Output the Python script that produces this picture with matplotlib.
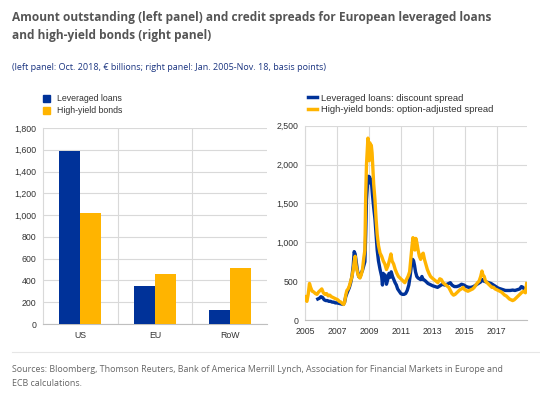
import matplotlib
matplotlib.use("Agg")
import matplotlib.pyplot as plt
from matplotlib.lines import Line2D
from matplotlib.patches import Patch

# Left panel: amount outstanding, Oct. 2018, EUR billions
regions = ["US", "EU", "RoW"]
lev_loans = [1590, 348, 125]
hy_bonds = [1015, 458, 516]

# Right panel: spreads (basis points), x in decimal years
ll_years = [2005.80, 2005.90, 2006.00, 2006.10, 2006.20, 2006.30, 2006.40, 2006.50, 2006.60, 2006.70,
            2006.80, 2006.90, 2007.00, 2007.10, 2007.20, 2007.30, 2007.40, 2007.48, 2007.55, 2007.62,
            2007.70, 2007.78, 2007.86, 2007.94, 2008.02, 2008.08, 2008.14, 2008.20, 2008.28, 2008.36,
            2008.44, 2008.52, 2008.60, 2008.68, 2008.75, 2008.80, 2008.85, 2008.90, 2008.95, 2009.00,
            2009.05, 2009.10, 2009.15, 2009.22, 2009.30, 2009.38, 2009.45, 2009.52, 2009.60, 2009.70,
            2009.80, 2009.85, 2009.90, 2009.96, 2010.02, 2010.10, 2010.18, 2010.26, 2010.34, 2010.40,
            2010.48, 2010.56, 2010.64, 2010.72, 2010.80, 2010.90, 2011.00, 2011.10, 2011.20, 2011.30,
            2011.40, 2011.50, 2011.58, 2011.66, 2011.74, 2011.80, 2011.86, 2011.92, 2012.00, 2012.08,
            2012.16, 2012.24, 2012.32, 2012.40, 2012.50, 2012.60, 2012.70, 2012.80, 2012.90, 2013.00,
            2013.15, 2013.30, 2013.45, 2013.60, 2013.75, 2013.90, 2014.00, 2014.10, 2014.20, 2014.35,
            2014.50, 2014.65, 2014.80, 2014.95, 2015.10, 2015.25, 2015.40, 2015.55, 2015.70, 2015.85,
            2016.00, 2016.10, 2016.20, 2016.35, 2016.50, 2016.65, 2016.80, 2016.95, 2017.10, 2017.25,
            2017.40, 2017.55, 2017.70, 2017.85, 2018.00, 2018.15, 2018.30, 2018.45, 2018.55, 2018.65,
            2018.75, 2018.88]
ll_spread = [270, 280, 300, 290, 260, 250, 250, 240, 240, 230,
             230, 220, 220, 215, 210, 205, 200, 230, 300, 340,
             380, 420, 480, 560, 700, 880, 850, 760, 640, 560,
             550, 600, 640, 700, 750, 1100, 1550, 1700, 1850, 1800,
             1840, 1760, 1800, 1620, 1450, 1300, 1100, 900, 760, 650,
             560, 450, 600, 520, 580, 460, 520, 600, 550, 620,
             560, 520, 480, 450, 400, 370, 340, 330, 330, 340,
             380, 450, 560, 700, 780, 760, 700, 620, 560, 540,
             530, 520, 560, 520, 510, 490, 470, 460, 450, 440,
             430, 420, 440, 460, 450, 460, 470, 480, 450, 430,
             430, 440, 460, 450, 430, 420, 420, 430, 450, 470,
             490, 520, 500, 490, 480, 470, 450, 430, 410, 400,
             390, 380, 380, 380, 385, 380, 390, 400, 430, 420,
             390, 380]

hy_years = [2005.00, 2005.05, 2005.12, 2005.20, 2005.28, 2005.35, 2005.45, 2005.55, 2005.65, 2005.75,
            2005.85, 2005.95, 2006.05, 2006.15, 2006.25, 2006.35, 2006.45, 2006.55, 2006.65, 2006.75,
            2006.85, 2006.95, 2007.05, 2007.15, 2007.25, 2007.35, 2007.42, 2007.48, 2007.55, 2007.62,
            2007.70, 2007.78, 2007.86, 2007.94, 2008.02, 2008.08, 2008.14, 2008.20, 2008.28, 2008.36,
            2008.44, 2008.52, 2008.60, 2008.68, 2008.75, 2008.80, 2008.85, 2008.90, 2008.94, 2008.98,
            2009.02, 2009.06, 2009.10, 2009.15, 2009.20, 2009.25, 2009.30, 2009.38, 2009.45, 2009.52,
            2009.60, 2009.70, 2009.80, 2009.90, 2010.00, 2010.10, 2010.20, 2010.30, 2010.38, 2010.45,
            2010.55, 2010.65, 2010.75, 2010.85, 2010.95, 2011.05, 2011.15, 2011.25, 2011.35, 2011.45,
            2011.55, 2011.62, 2011.70, 2011.76, 2011.82, 2011.88, 2011.94, 2012.00, 2012.08, 2012.16,
            2012.24, 2012.32, 2012.40, 2012.48, 2012.56, 2012.66, 2012.76, 2012.86, 2012.96, 2013.08,
            2013.20, 2013.32, 2013.44, 2013.54, 2013.64, 2013.76, 2013.88, 2014.00, 2014.10, 2014.20,
            2014.30, 2014.40, 2014.50, 2014.60, 2014.70, 2014.80, 2014.90, 2015.00, 2015.10, 2015.20,
            2015.30, 2015.40, 2015.50, 2015.60, 2015.70, 2015.80, 2015.90, 2016.00, 2016.08, 2016.14,
            2016.22, 2016.30, 2016.40, 2016.50, 2016.60, 2016.70, 2016.80, 2016.90, 2017.00, 2017.10,
            2017.20, 2017.30, 2017.40, 2017.50, 2017.60, 2017.70, 2017.80, 2017.90, 2018.00, 2018.10,
            2018.20, 2018.30, 2018.40, 2018.50, 2018.60, 2018.70, 2018.80, 2018.88]
hy_spread = [300, 260, 240, 330, 470, 420, 370, 360, 340, 330,
             360, 380, 400, 350, 330, 340, 310, 320, 300, 290,
             280, 270, 260, 240, 230, 210, 200, 230, 320, 380,
             400, 440, 500, 560, 650, 750, 820, 700, 620, 560,
             540, 580, 650, 800, 900, 1600, 2000, 2200, 2340, 2150,
             2050, 2280, 2100, 2250, 2150, 1950, 1750, 1550, 1300, 1100,
             960, 860, 820, 760, 720, 650, 700, 780, 850, 760,
             720, 650, 600, 560, 540, 520, 500, 480, 520, 560,
             620, 780, 950, 1060, 950, 900, 1050, 1000, 900, 820,
             780, 840, 860, 780, 720, 650, 600, 560, 540, 520,
             500, 480, 530, 520, 480, 460, 440, 420, 380, 340,
             320, 330, 350, 370, 390, 400, 420, 390, 380, 370,
             380, 390, 400, 420, 450, 480, 500, 560, 630, 580,
             560, 500, 480, 460, 440, 420, 420, 400, 390, 380,
             370, 360, 340, 320, 310, 290, 270, 260, 250, 260,
             280, 300, 320, 340, 360, 370, 350, 470]

BLUE = "#003299"
YELLOW = "#FFB400"
GRID = "#d9d9d9"
TXT = "#333333"

plt.rcParams["font.family"] = ["Liberation Sans", "DejaVu Sans"]

fig = plt.figure(figsize=(5.4, 4.16), dpi=100)

# Title, subtitle, sources
fig.text(12 / 540, 1 - 17 / 416, "Amount outstanding (left panel) and credit spreads for European leveraged loans",
         family="Open Sans", weight="bold", fontsize=8.6, color="#555555", va="center")
fig.text(12 / 540, 1 - 36 / 416, "and high-yield bonds (right panel)",
         family="Open Sans", weight="bold", fontsize=8.6, color="#555555", va="center")
fig.text(12 / 540, 1 - 67 / 416, "(left panel: Oct. 2018, \u20ac billions; right panel: Jan. 2005-Nov. 18, basis points)",
         family="Open Sans", fontsize=6.5, color="#1a3480", va="center")
fig.text(12 / 540, 1 - 370 / 416,
         "Sources: Bloomberg, Thomson Reuters, Bank of America Merrill Lynch, Association for Financial Markets in Europe and",
         family="Open Sans", fontsize=6.4, color="#666666", va="center")
fig.text(12 / 540, 1 - 383 / 416, "ECB calculations.",
         family="Open Sans", fontsize=6.4, color="#666666", va="center")
fig.add_artist(Line2D([12 / 540, 1], [1 - 352 / 416, 1 - 352 / 416], color="#e6e6e6", lw=0.8))

# Left panel: bars
ax1 = fig.add_axes([43 / 540, 1 - 324 / 416, 224 / 540, 196 / 416])
x = range(len(regions))
w = 0.28
ax1.bar([i - w / 2 for i in x], lev_loans, width=w, color=BLUE, zorder=3)
ax1.bar([i + w / 2 for i in x], hy_bonds, width=w, color=YELLOW, zorder=3)
ax1.set_xlim(-0.5, 2.5)
ax1.set_ylim(0, 1800)
ax1.set_yticks(range(0, 1801, 200))
ax1.set_yticklabels([f"{v:,}" for v in range(0, 1801, 200)])
ax1.set_xticks(list(x))
ax1.set_xticklabels(regions)
ax1.set_xticks([0.5, 1.5], minor=True)
ax1.grid(axis="y", color=GRID, lw=0.8, zorder=0)
ax1.grid(axis="x", which="minor", color=GRID, lw=0.8, zorder=0)
ax1.tick_params(which="both", length=0, labelsize=6.3, colors=TXT, pad=5)
for s in ["top", "right"]:
    ax1.spines[s].set_visible(False)
ax1.spines["left"].set_color(GRID)
ax1.spines["bottom"].set_color("#bfbfbf")

fig.legend(handles=[Patch(color=BLUE, label="Leveraged loans"), Patch(color=YELLOW, label="High-yield bonds")],
           loc="upper left", bbox_to_anchor=(39 / 540, 1 - 90 / 416), frameon=False, fontsize=6.3,
           handlelength=0.8, handleheight=0.8, handletextpad=0.8, labelspacing=0.35, borderpad=0,
           labelcolor=TXT)

# Right panel: spreads
ax2 = fig.add_axes([305 / 540, 1 - 320 / 416, 222 / 540, 194.3 / 416])
ax2.plot(ll_years, ll_spread, color=BLUE, lw=2.4, zorder=3)
ax2.plot(hy_years, hy_spread, color=YELLOW, lw=2.4, zorder=4)
ax2.set_xlim(2005, 2018.9)
ax2.set_ylim(0, 2500)
ax2.set_yticks(range(0, 2501, 500))
ax2.set_yticklabels([f"{v:,}" for v in range(0, 2501, 500)])
ax2.set_xticks(range(2005, 2018, 2))
ax2.grid(color=GRID, lw=0.8, zorder=0)
ax2.tick_params(length=0, labelsize=6.3, colors=TXT, pad=5)
for s in ["top", "right"]:
    ax2.spines[s].set_visible(False)
ax2.spines["left"].set_color(GRID)
ax2.spines["bottom"].set_color("#bfbfbf")

fig.legend(handles=[Line2D([], [], color=BLUE, lw=2.5, label="Leveraged loans: discount spread"),
                    Line2D([], [], color=YELLOW, lw=2.5, label="High-yield bonds: option-adjusted spread")],
           loc="upper left", bbox_to_anchor=(303 / 540, 1 - 89 / 416), frameon=False, fontsize=6.8,
           handlelength=1.0, handletextpad=0.45, labelspacing=0.25, borderpad=0, labelcolor=TXT)

fig.savefig("out.png", dpi=100)
